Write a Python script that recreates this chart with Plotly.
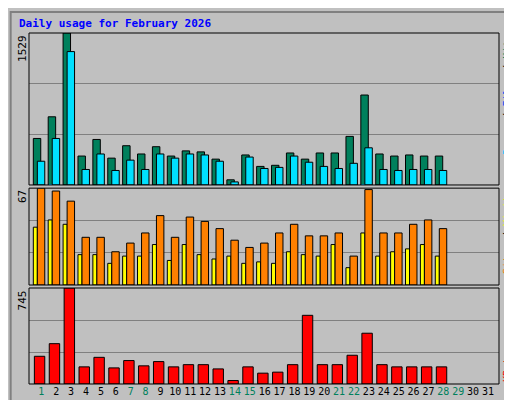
import plotly.graph_objects as go

days = list(range(1, 32))
hits = [468, 686, 1529, 291, 458, 270, 395, 312, 385, 291, 343, 333, 260, 52, 302, 187, 198, 322, 260, 322, 322, 489, 905, 312, 291, 302, 291, 291]
files = [239, 468, 1342, 156, 312, 146, 250, 156, 312, 270, 312, 302, 239, 31, 281, 166, 177, 291, 229, 187, 166, 218, 374, 156, 146, 156, 156, 146]
pages = [0, 6, 0, 0, 0, 0, 0, 0, 0, 0, 0, 0, 0, 0, 0, 0, 0, 0, 6, 0, 0, 0, 6, 0, 0, 0, 0, 0]
visits_y = [40, 45, 42, 21, 21, 15, 20, 20, 28, 17, 28, 21, 18, 20, 15, 16, 15, 23, 21, 20, 28, 12, 36, 20, 23, 25, 28, 20]
sites_o = [67, 65, 58, 33, 33, 23, 29, 36, 48, 33, 47, 44, 39, 31, 26, 29, 36, 42, 34, 34, 36, 20, 66, 36, 36, 42, 45, 39]
kbytes = [215, 313, 745, 133, 207, 125, 182, 141, 174, 133, 150, 150, 117, 27, 133, 84, 92, 150, 533, 150, 150, 223, 394, 150, 133, 133, 133, 133]
weekend = {1, 7, 8, 14, 15, 21, 22, 28, 29}
HMAX, SMAX, KMAX = 1529, 67, 745

d = days[:len(hits)]
line = dict(color="black", width=1)
fig = go.Figure()
fig.add_bar(x=d, y=hits, width=0.5, offset=-0.54, marker=dict(color="#00805c", line=line), yaxis="y")
fig.add_bar(x=d, y=files, width=0.5, offset=-0.27, marker=dict(color="#00e0ff", line=line), yaxis="y")
fig.add_bar(x=d, y=pages, width=0.2, offset=-0.5, marker=dict(color="#00c0ff", line=dict(width=0)), yaxis="y")
fig.add_bar(x=d, y=visits_y, width=0.27, offset=-0.54, marker=dict(color="#ffff00", line=line), yaxis="y2")
fig.add_bar(x=d, y=sites_o, width=0.5, offset=-0.27, marker=dict(color="#ff8000", line=line), yaxis="y2")
fig.add_bar(x=d, y=kbytes, width=0.7, offset=-0.47, marker=dict(color="#ff0000", line=line), yaxis="y3")

ticktext = [f"<span style='color:{'#00805c' if v in weekend else 'black'}'>{v}</span>" for v in days]
grid = dict(showgrid=True, gridcolor="#808080", gridwidth=1, showticklabels=False, zeroline=False,
            ticks="", fixedrange=True, automargin=False)
fig.update_layout(
    width=512, height=400, showlegend=False, barmode="overlay",
    paper_bgcolor="#c0c0c0", plot_bgcolor="#c0c0c0",
    margin=dict(l=21, r=21, t=25, b=24, autoexpand=False),
    font=dict(family="DejaVu Sans Mono", size=11, color="black"),
    xaxis=dict(range=[0.17, 31.74], tickvals=days, ticktext=ticktext, showgrid=False, zeroline=False,
               ticks="", tickangle=0, tickfont=dict(size=10), anchor="y3", automargin=False),
    yaxis=dict(domain=[0.567, 1], range=[0, HMAX], tickvals=[HMAX / 3, HMAX * 2 / 3], **grid),
    yaxis2=dict(domain=[0.282, 0.558], range=[0, SMAX], tickvals=[SMAX / 3, SMAX * 2 / 3], **grid),
    yaxis3=dict(domain=[0, 0.2735], range=[0, KMAX], tickvals=[KMAX / 3, KMAX * 2 / 3], **grid),
)
shapes = []
for y0, y1 in [(0.567, 1), (0.282, 0.558), (0, 0.2735)]:
    shapes.append(dict(type="rect", xref="paper", yref="paper", x0=0, x1=1, y0=y0, y1=y1,
                       line=dict(color="black", width=1), layer="above"))
shapes.append(dict(type="rect", xref="paper", yref="paper", x0=-0.039, x1=1.035, y0=-0.06, y1=1.06,
                   line=dict(color="#808080", width=2), layer="below"))
fig.update_layout(shapes=shapes)

ann = [
    dict(text="<b>Daily usage for February 2026</b>", x=-0.025, y=1.026, xanchor="left", yanchor="middle",
         font=dict(color="#0000ff", size=11)),
    dict(text=str(HMAX), x=-0.014, y=1, xanchor="center", yanchor="top", textangle=-90),
    dict(text=str(SMAX), x=-0.014, y=0.558, xanchor="center", yanchor="top", textangle=-90),
    dict(text=str(KMAX), x=-0.014, y=0.2735, xanchor="center", yanchor="top", textangle=-90),
    dict(text="<span style='color:#00c0ff'>Pages</span> / <span style='color:#0040ff'>Files</span> / <span style='color:#00805c'>Hits</span>",
         x=1.017, y=1, xanchor="center", yanchor="top", textangle=-90, font=dict(size=10)),
    dict(text="<span style='color:#ff8000'>Sites</span> / <span style='color:#ffff00'>Visits</span>",
         x=1.017, y=0.558, xanchor="center", yanchor="top", textangle=-90, font=dict(size=10)),
    dict(text="<span style='color:#ff0000'>KBytes</span>", x=1.017, y=0, xanchor="center", yanchor="bottom",
         textangle=-90, font=dict(size=10)),
]
for a in ann:
    a.update(xref="paper", yref="paper", showarrow=False)
fig.update_layout(annotations=ann)
fig.write_html("out.html")
